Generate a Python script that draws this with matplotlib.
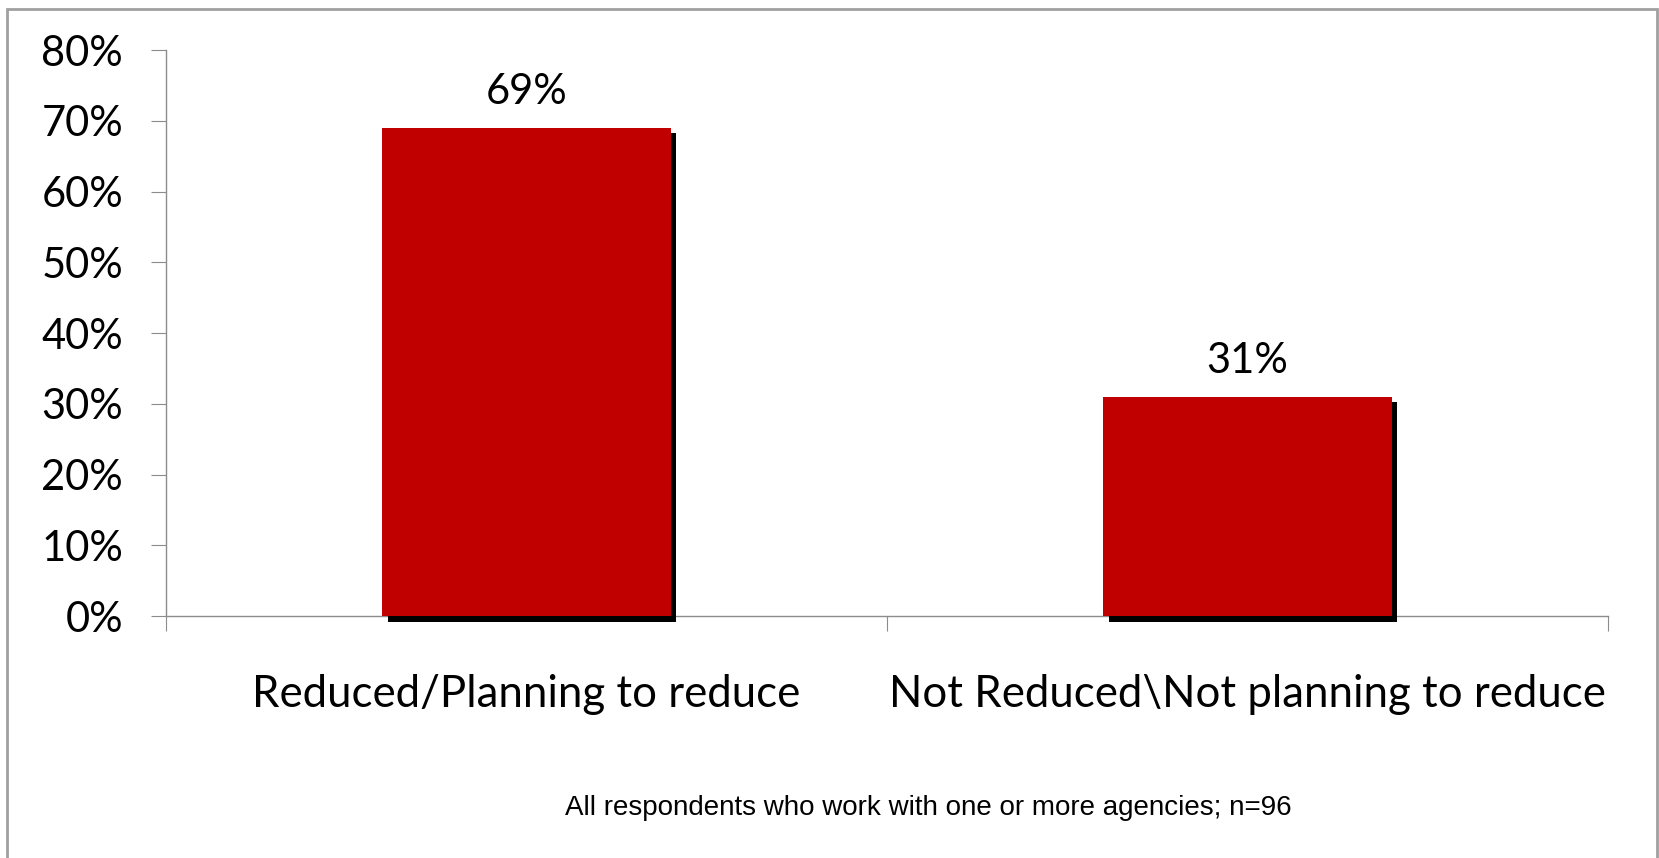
import matplotlib.pyplot as plt
import matplotlib.patheffects as pe
from matplotlib.patches import Rectangle

# Données
categories = ["Reduced/Planning to reduce", "Not Reduced\\Not planning to reduce"]
valeurs = [69, 31]
etiquettes = ["69%", "31%"]
graduations = [0, 10, 20, 30, 40, 50, 60, 70, 80]
note = "All respondents who work with one or more agencies; n=96"

police = ["Lato", "DejaVu Sans"]
gris = "#8c8c8c"

fig = plt.figure(figsize=(16.59, 8.58), dpi=100)
ax = fig.add_axes([0.1001, 0.282, 0.8692, 0.6597])

# Barres avec ombre portée noire
barres = ax.bar(range(len(valeurs)), valeurs, width=0.4, color="#C00000", zorder=3)
for b in barres:
    b.set_clip_on(False)
    b.set_path_effects([pe.SimplePatchShadow(offset=(4, -4), shadow_rgbFace="black", alpha=1), pe.Normal()])

for i, v in enumerate(valeurs):
    ax.annotate(etiquettes[i], (i, v), xytext=(0, 26), textcoords="offset points",
                ha="center", va="center", fontsize=30, family=police)

ax.set_xlim(-0.5, 1.5)
ax.set_ylim(0, 80)
ax.set_yticks(graduations)
ax.set_yticklabels([f"{g}%" for g in graduations], fontsize=30, family=police)
ax.tick_params(axis="y", length=11, color=gris, pad=20)

# Traits entre les catégories, étiquettes au centre
ax.set_xticks([-0.5, 0.5, 1.5])
ax.set_xticklabels([])
ax.set_xticks([0, 1], minor=True)
ax.set_xticklabels(categories, minor=True, fontsize=31.5, family=police)
ax.tick_params(axis="x", which="major", length=11, color=gris)
ax.tick_params(axis="x", which="minor", length=0, pad=42)

for s in ["top", "right"]:
    ax.spines[s].set_visible(False)
for s in ["left", "bottom"]:
    ax.spines[s].set_color(gris)
    ax.spines[s].set_linewidth(1)

fig.text(0.5594, 0.058, note, ha="center", va="center", fontsize=20,
         family=["Liberation Sans", "DejaVu Sans"])

# Cadre gris autour du graphique
fig.patches.append(Rectangle((0.0042, -0.05), 0.9946, 1.04, transform=fig.transFigure,
                             fill=False, edgecolor="#a0a0a0", linewidth=2))

fig.savefig("out.png", dpi=100)
